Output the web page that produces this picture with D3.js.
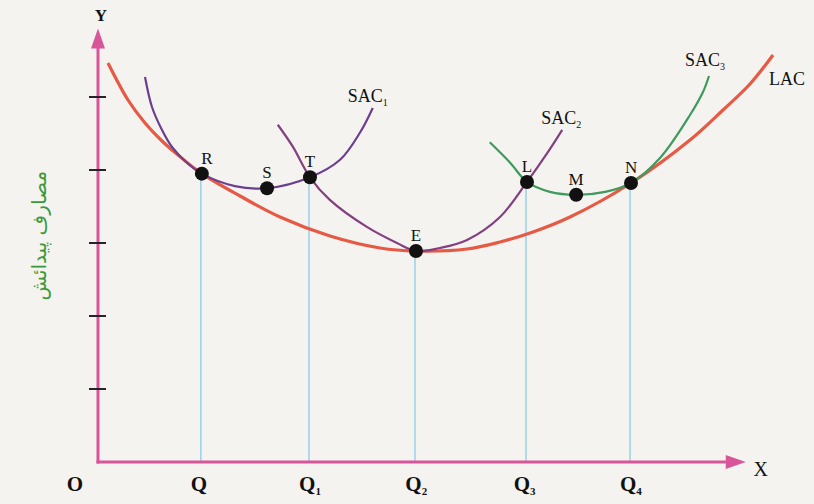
<!DOCTYPE html>
<html><head><meta charset="utf-8">
<script src="https://cdn.jsdelivr.net/npm/d3@7"></script>
<style>
html,body{margin:0;padding:0;background:#f4f3ef;}
svg{display:block;}
</style></head>
<body>
<svg id="chart" width="814" height="504"></svg>
<script>
// ---- data (quantity units on X, cost units on Y) ----
const lacCurve = [[0.186,5.466],[0.559,4.959],[0.876,4.644],[1.193,4.397],[1.491,4.205],[1.935,3.950],[2.646,3.644],[3.391,3.356],[4.323,3.096],[5.255,2.932],[5.925,2.890],[6.876,2.918],[7.491,3.014],[8.106,3.151],[8.795,3.356],[9.932,3.822],[11.031,4.411],[11.646,4.822],[12.149,5.178],[12.578,5.575]];
const sac1Curve = [[0.876,5.274],[1.006,4.863],[1.193,4.548],[1.379,4.315],[1.640,4.110],[1.935,3.950],[2.55,3.78],[3.15,3.75],[3.95,3.90],[4.51,4.14],[4.88,4.51],[5.12,4.85]];
const sac2Curve = [[3.35,4.62],[3.63,4.32],[3.95,3.90],[4.32,3.59],[5.01,3.22],[5.57,3.00],[5.925,2.890],[6.373,2.932],[6.876,3.041],[7.491,3.356],[7.994,3.836],[8.37,4.23],[8.65,4.55]];
const sac3Curve = [[7.30,4.38],[7.68,4.10],[7.994,3.836],[8.42,3.70],[8.91,3.66],[9.45,3.70],[9.932,3.822],[10.472,4.164],[11.031,4.753],[11.273,5.068],[11.385,5.288]];
const pointNames = ["R","S","T","E","L","M","N"];
const pointX = [1.935,3.15,3.95,5.925,7.994,8.91,9.932];
const pointY = [3.950,3.75,3.90,2.890,3.836,3.66,3.822];
const dropPoints = ["R","T","E","L","N"];
const qNames = ["Q","Q","Q","Q","Q"];
const qSubs = ["","1","2","3","4"];
const qX = [1.88,3.95,5.93,7.95,9.93];
const yTicks = [1,2,3,4,5];
const curveNames = ["SAC","SAC","SAC","LAC"];
const curveSubs = ["1","2","3",""];
const yTitle = "مصارف پیدائش";

// ---- scales ----
const x = d3.scaleLinear().domain([0,12]).range([98,742]);
const y = d3.scaleLinear().domain([0,6]).range([462,24]);

const svg = d3.select("#chart");
const axisColor = "#d9559a";

// vertical drop lines
const drops = pointNames.map((n,i)=>({n,x:pointX[i],y:pointY[i]})).filter(d=>dropPoints.includes(d.n));
svg.append("g").selectAll("line").data(drops).join("line")
  .attr("x1",d=>x(d.x)-1).attr("x2",d=>x(d.x)-1)
  .attr("y1",d=>y(d.y)).attr("y2",y(0))
  .attr("stroke","#8ccbe6").attr("stroke-width",1.3);

// axes
const axes = svg.append("g");
axes.append("line").attr("x1",x(0)).attr("x2",x(0)).attr("y1",y(0)+1.5).attr("y2",y(5.72))
  .attr("stroke",axisColor).attr("stroke-width",3);
axes.append("line").attr("x1",x(0)-1.5).attr("x2",x(11.7)).attr("y1",y(0)).attr("y2",y(0))
  .attr("stroke",axisColor).attr("stroke-width",3);
// arrowheads
const yt = [x(0), y(5.94)];
axes.append("path").attr("d",`M${yt[0]},${yt[1]} L${yt[0]-7},${yt[1]+20} L${yt[0]+7},${yt[1]+20} Z`).attr("fill",axisColor);
const xt = [x(12.07), y(0)];
axes.append("path").attr("d",`M${xt[0]},${xt[1]} L${xt[0]-20},${xt[1]-7} L${xt[0]-20},${xt[1]+7} Z`).attr("fill",axisColor);

// y ticks
axes.selectAll("line.tick").data(yTicks).join("line").attr("class","tick")
  .attr("x1",x(0)-9).attr("x2",x(0)+8).attr("y1",d=>y(d)).attr("y2",d=>y(d))
  .attr("stroke","#2a2228").attr("stroke-width",2);

// curves
const line = d3.line().x(d=>x(d[0])).y(d=>y(d[1])).curve(d3.curveCatmullRom.alpha(0.5));
svg.append("path").attr("d",line(lacCurve)).attr("fill","none").attr("stroke","#e65a45").attr("stroke-width",3.2);
svg.append("path").attr("d",line(sac1Curve)).attr("fill","none").attr("stroke","#6b3f90").attr("stroke-width",2.2);
svg.append("path").attr("d",line(sac2Curve)).attr("fill","none").attr("stroke","#843f80").attr("stroke-width",2.2);
svg.append("path").attr("d",line(sac3Curve)).attr("fill","none").attr("stroke","#3f9a5e").attr("stroke-width",2.2);

// points
const pts = pointNames.map((n,i)=>({n,x:pointX[i],y:pointY[i]}));
svg.append("g").selectAll("circle").data(pts).join("circle")
  .attr("cx",d=>x(d.x)).attr("cy",d=>y(d.y)).attr("r",7).attr("fill","#111");
svg.append("g").selectAll("text").data(pts).join("text")
  .attr("x",d=>x(d.x)+(d.n==="R"?5:0)).attr("y",d=>y(d.y)-10)
  .attr("text-anchor","middle").attr("font-family","Liberation Serif").attr("font-size",17)
  .attr("fill","#111").text(d=>d.n);

// curve labels (anchored at each curve's end)
const ends = [sac1Curve[sac1Curve.length-1], sac2Curve[sac2Curve.length-1], sac3Curve[sac3Curve.length-1], lacCurve[lacCurve.length-1]];
const offs = [[-25,-6],[-21,-6],[-24,-10],[-4,30]];
const cl = svg.append("g").selectAll("text").data(curveNames).join("text")
  .attr("x",(d,i)=>x(ends[i][0])+offs[i][0]).attr("y",(d,i)=>y(ends[i][1])+offs[i][1])
  .attr("font-family","Liberation Serif").attr("font-size",18).attr("fill","#111");
cl.append("tspan").text(d=>d);
cl.append("tspan").attr("font-size",10).attr("dy",4).text((d,i)=>curveSubs[i]);

// x labels
const ql = svg.append("g").selectAll("text").data(qNames).join("text")
  .attr("x",(d,i)=>x(qX[i])).attr("y",y(0)+29)
  .attr("text-anchor","middle").attr("font-family","Liberation Serif").attr("font-weight","bold")
  .attr("font-size",21).attr("fill","#111");
ql.append("tspan").text(d=>d);
ql.append("tspan").attr("font-size",11).attr("dy",4).text((d,i)=>qSubs[i]);

svg.append("text").attr("x",x(0)-23).attr("y",y(0)+29).attr("text-anchor","middle")
  .attr("font-family","Liberation Serif").attr("font-weight","bold").attr("font-size",21).attr("fill","#111").text("O");
svg.append("text").attr("x",x(12.2)+8).attr("y",y(0)+14).attr("text-anchor","middle")
  .attr("font-family","Liberation Serif").attr("font-size",20).attr("fill","#111").text("X");
svg.append("text").attr("x",x(0)+3).attr("y",21).attr("text-anchor","middle")
  .attr("font-family","Liberation Serif").attr("font-weight","bold").attr("font-size",17).attr("fill","#111").text("Y");

// y title
svg.append("text").attr("transform",`translate(46,${y(3.1)}) rotate(-90)`)
  .attr("text-anchor","middle").attr("font-family","DejaVu Sans").attr("font-size",20)
  .attr("fill","#3b9a3b").text(yTitle);
</script>
</body></html>
